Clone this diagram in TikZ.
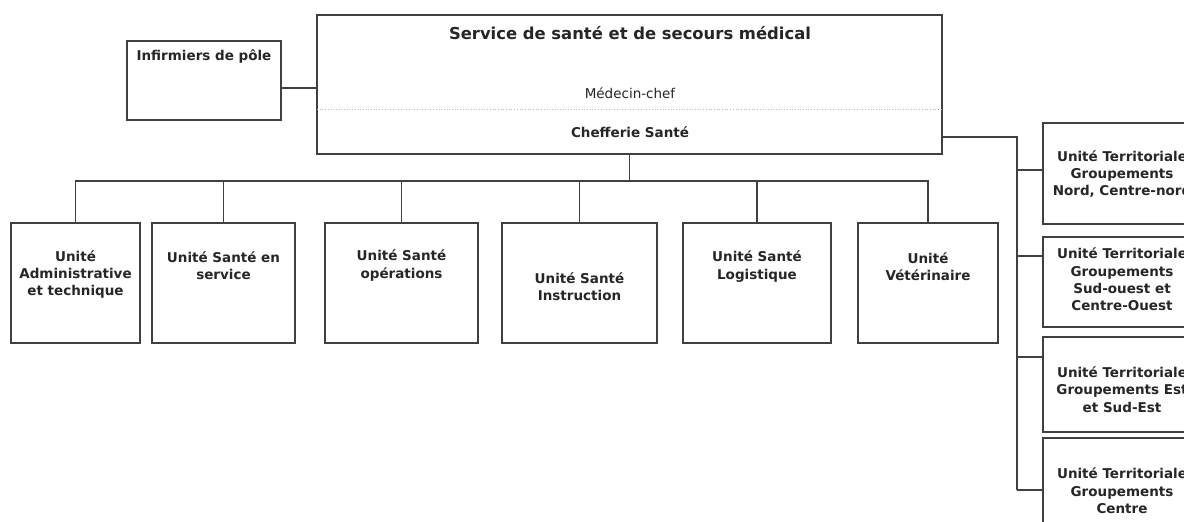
\documentclass[tikz,border=0pt]{standalone}
\usepackage{fontspec}
\setmainfont{DejaVu Sans}
\begin{document}
\begin{tikzpicture}[x=1pt,y=-1pt,
  box/.style={draw=black!75, line width=1.1pt, fill=white, inner sep=0pt, outer sep=0pt, anchor=north west},
  lbl/.style={font=\bfseries\fontsize{13.5}{17.4}\selectfont, align=center, text=black!85, inner sep=0pt},
  conn/.style={draw=black!75, line width=1.1pt}]
\useasboundingbox (0,0) rectangle (1184,522);
\fill[white] (0,0) rectangle (1184,522);
\clip (0,0) rectangle (1184,522);

% top
\node[box, minimum width=154pt, minimum height=79pt] (inf) at (127,41) {};
\node[lbl] (inft) at (204,57) {Infirmiers de pôle};
\node[box, minimum width=625pt, minimum height=139pt] (main) at (317,15) {};
\node[lbl, font=\bfseries\fontsize{16.4}{19}\selectfont] (title) at (630,33) {Service de santé et de secours médical};
\node[lbl, font=\fontsize{13.5}{17.4}\selectfont] (med) at (630,93) {Médecin-chef};
\node[lbl] (chef) at (630,132) {Chefferie Santé};
\draw[gray!55, dotted, line width=0.7pt] ([yshift=-94pt]main.north west) -- ([yshift=-94pt]main.north east);

% bottom row
\node[box, minimum width=129pt, minimum height=120pt] (adm) at (11,223) {};
\node[box, minimum width=143pt, minimum height=120pt] (serv) at (152,223) {};
\node[box, minimum width=153pt, minimum height=120pt] (ops) at (325,223) {};
\node[box, minimum width=155pt, minimum height=120pt] (instr) at (502,223) {};
\node[box, minimum width=148pt, minimum height=120pt] (log) at (683,223) {};
\node[box, minimum width=140pt, minimum height=120pt] (vet) at (858,223) {};
\node[lbl] (admt) at (75.5,274.5) {Unité\\Administrative\\et technique};
\node[lbl] (servt) at (223.5,265.5) {Unité Santé en\\service};
\node[lbl] (opst) at (401.5,265.5) {Unité Santé\\opérations};
\node[lbl] (instrt) at (579.5,286.5) {Unité Santé\\Instruction};
\node[lbl] (logt) at (757,266.5) {Unité Santé\\Logistique};
\node[lbl] (vett) at (928,266.5) {Unité\\Vétérinaire};

% right column
\node[box, minimum width=158pt, minimum height=101pt] (ut1) at (1043,123) {};
\node[box, minimum width=158pt, minimum height=90pt] (ut2) at (1043,237) {};
\node[box, minimum width=158pt, minimum height=95pt] (ut3) at (1043,337) {};
\node[box, minimum width=158pt, minimum height=107pt] (ut4) at (1043,438) {};
\node[lbl] (ut1t) at (1122,174) {Unité Territoriale\\Groupements\\Nord, Centre-nord};
\node[lbl] (ut2t) at (1122,279.5) {Unité Territoriale\\Groupements\\Sud-ouest et\\Centre-Ouest};
\node[lbl] (ut3t) at (1122,389.5) {Unité Territoriale\\Groupements Est\\et Sud-Est};
\node[lbl] (ut4t) at (1122,491) {Unité Territoriale\\Groupements\\Centre};

% connectors
\draw[conn] ([yshift=-7.5pt]inf.east) -- ++(36,0);
\coordinate (busc) at (629.5,181);
\draw[conn] (main.south) -- (busc);
\foreach \n in {adm,serv,ops,instr,log,vet} \draw[conn] (\n.north) |- (busc);
\coordinate (rt) at (1017,137);
\coordinate (rb) at (1017,490);
\draw[conn] (main.east |- rt) -- (rt) -- (rb);
\draw[conn] ([yshift=3.5pt]ut1.west) -- ++(-26,0);
\draw[conn] ([yshift=26pt]ut2.west) -- ++(-26,0);
\draw[conn] ([yshift=27.5pt]ut3.west) -- ++(-26,0);
\draw[conn] ([yshift=1.5pt]ut4.west) -- ++(-26,0);
\end{tikzpicture}
\end{document}
